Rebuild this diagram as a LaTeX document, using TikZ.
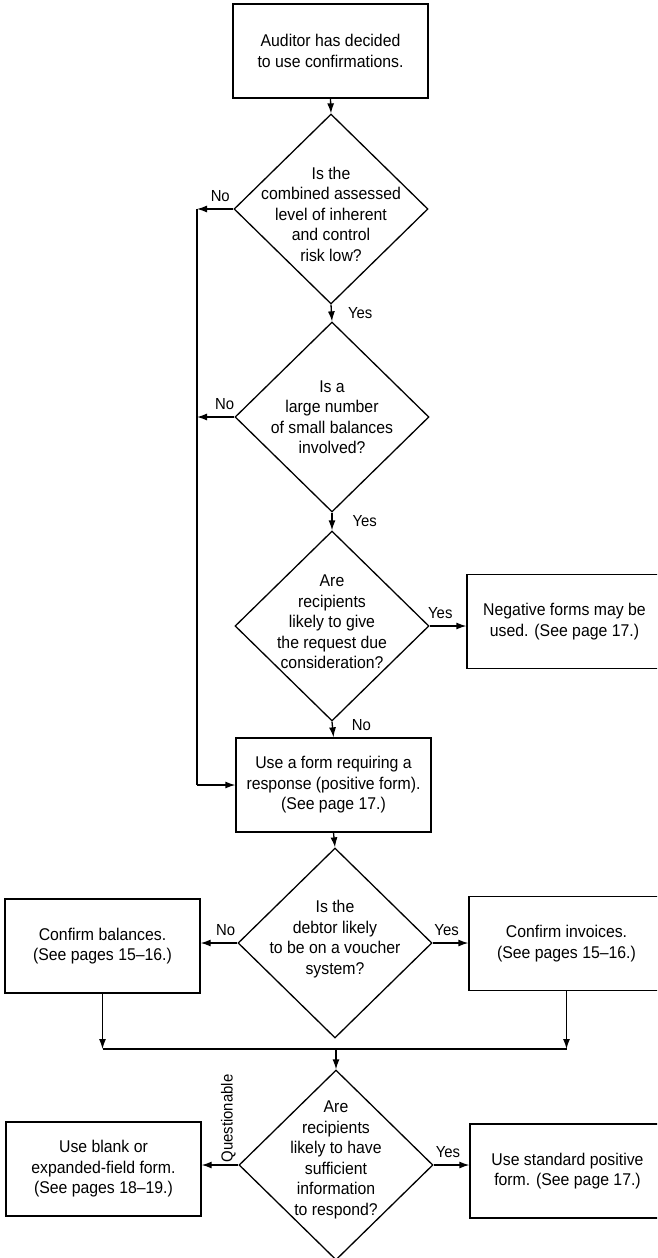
\documentclass[tikz,border=0pt]{standalone}
\usepackage{fontspec}
\setmainfont{Liberation Sans}[FakeStretch=0.93]
\usetikzlibrary{shapes.geometric,arrows.meta}

\begin{document}
\begin{tikzpicture}[x=1pt, y=-1pt, line width=1.3pt,
  font=\fontsize{17}{20.5}\selectfont,
  >={Latex[length=10pt,width=7pt]},
  box/.style={draw, rectangle, minimum width=195pt, minimum height=94pt, inner sep=0pt, align=center},
  decision/.style={draw, diamond, minimum width=194pt, minimum height=190pt, inner sep=0pt},
  qtext/.style={inner sep=0pt, align=center},
  lbl/.style={font=\fontsize{16}{18}\selectfont, inner sep=2pt}]

\clip (0,0) rectangle (657,1258);

% boxes
\node[box] at (330.5,51) (start) {Auditor has decided\\to use confirmations.};
\node[box] at (564.5,621.5) (neg) {Negative forms may be\\used. (See page 17.)};
\node[box] at (333.5,785) (pos) {Use a form requiring a\\response (positive form).\\(See page 17.)};
\node[box] at (102.5,946) (bal) {Confirm balances.\\(See pages 15--16.)};
\node[box] at (566.5,943.5) (inv) {Confirm invoices.\\(See pages 15--16.)};
\node[box] at (103.5,1169) (blank) {Use blank or\\expanded-field form.\\(See pages 18--19.)};
\node[box] at (567.5,1171) (std) {Use standard positive\\form. (See page 17.)};

% decisions
\node[decision] at (331,209) (d1) {};
\node[qtext, yshift=-5pt] at (d1) (d1t) {Is the\\combined assessed\\level of inherent\\and control\\risk low?};
\node[decision] at (332,417) (d2) {};
\node[qtext] at (d2) (d2t) {Is a\\large number\\of small balances\\involved?};
\node[decision] at (332,626) (d3) {};
\node[qtext, yshift=4pt] at (d3) (d3t) {Are\\recipients\\likely to give\\the request due\\consideration?};
\node[decision] at (335,943) (d4) {};
\node[qtext, yshift=4pt] at (d4) (d4t) {Is the\\debtor likely\\to be on a voucher\\system?};
\node[decision] at (336,1165) (d5) {};
\node[qtext, yshift=5pt] at (d5) (d5t) {Are\\recipients\\likely to have\\sufficient\\information\\to respond?};

% rail on the left and junction below
\coordinate (r1) at (197,209);
\coordinate (r2) at (197,417);
\coordinate (r3) at (197,785);
\coordinate (jl) at (102.5,1049);
\coordinate (jr) at (566.5,1049);
\coordinate (jm) at (336,1049);

\path[->] (start.south) edge (d1.north);
\path[->] (d1.south) edge node[lbl, right, xshift=14pt]{Yes} (d2.north);
\path[->] (d2.south) edge node[lbl, right, xshift=18pt]{Yes} (d3.north);
\path[->] (d3.south) edge node[lbl, right, xshift=17pt, pos=0.2]{No} (pos.north);
\path[->] (pos.south) edge (d4.north);

\path[->] (d1.west) edge node[lbl, above=5pt, pos=0.36]{No} (r1);
\path[->] (d2.west) edge node[lbl, above=5pt, pos=0.26]{No} (r2);
\draw (r1) -- (r3);
\path[->] (r3) edge (pos.west |- r3);

\path[->] (d3.east) edge node[lbl, above=5pt, pos=0.29]{Yes} (neg.west |- d3.east);
\path[->] (d4.west) edge node[lbl, above=5pt, pos=0.32]{No} (bal.east |- d4.west);
\path[->] (d4.east) edge node[lbl, above=5pt, pos=0.39]{Yes} (inv.west |- d4.east);

\path[->] (bal.south) edge (jl);
\path[->] (inv.south) edge (jr);
\draw (jl) -- (jr);
\path[->] (jm) edge (d5.north);

\path[->] (d5.west) edge node[lbl, rotate=90, anchor=south west, pos=0]{Questionable} (blank.east |- d5.west);
\path[->] (d5.east) edge node[lbl, above=5pt, pos=0.4]{Yes} (std.west |- d5.east);

\end{tikzpicture}
\end{document}
